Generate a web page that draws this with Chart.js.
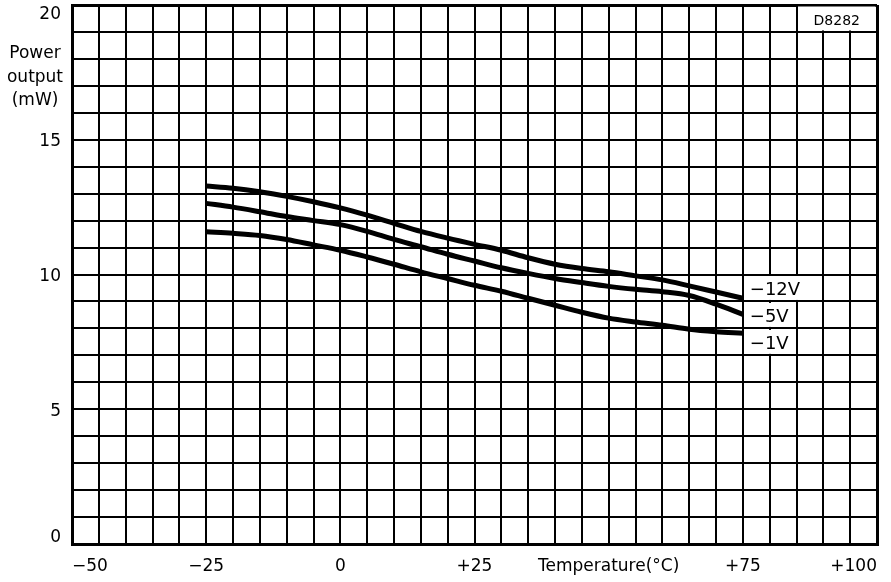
<!DOCTYPE html>
<html><head><meta charset="utf-8">
<script src="https://cdn.jsdelivr.net/npm/chart.js@4/dist/chart.umd.min.js"></script>
<style>html,body{margin:0;padding:0;background:#fff;}#wrap{width:891px;height:582px;}</style>
</head><body><div id="wrap"><canvas id="c" width="891" height="582"></canvas></div>
<script>
const temperatures = [-25,-20,-15,-10,-5,0,5,10,15,20,25,30,35,40,45,50,55,60,65,70,75];
const series12V = [13.28,13.2,13.07,12.9,12.7,12.47,12.2,11.9,11.6,11.35,11.12,10.9,10.62,10.38,10.22,10.1,9.95,9.8,9.58,9.35,9.12];
const series5V  = [12.64,12.5,12.33,12.15,12.0,11.85,11.6,11.3,11.03,10.75,10.5,10.25,10.04,9.85,9.7,9.56,9.45,9.36,9.22,8.9,8.52];
const series1V  = [11.59,11.53,11.45,11.3,11.1,10.9,10.65,10.38,10.1,9.85,9.6,9.38,9.12,8.86,8.6,8.38,8.24,8.12,7.97,7.88,7.82];
const seriesNames = ['\u221212V','\u22125V','\u22121V'];
const xTickValues = [-50,-25,0,25,50,75,100];
const xTickLabels = ['\u221250','\u221225','0','+25','Temperature(\u00b0C)','+75','+100'];
const yTickValues = [0,5,10,15,20];
const yTickLabels = ['0','5','10','15','20'];
const yAxisTitle = ['Power','output','(mW)'];
const chartCode = 'D8282';

const FONT = '"DejaVu Sans", sans-serif';
const allSeries = [series12V, series5V, series1V];

const overlay = {
  id: 'overlay',
  afterDraw(chart) {
    const ctx = chart.ctx, xs = chart.scales.x, ys = chart.scales.y;
    ctx.save();
    ctx.fillStyle = '#000';
    // y tick labels
    ctx.font = '17px ' + FONT;
    ctx.textAlign = 'right';
    ctx.textBaseline = 'middle';
    yTickValues.forEach((v, i) => {
      let y = ys.getPixelForValue(v);
      if (i === yTickValues.length - 1) y += 10;
      else if (i === 0) y -= 6;
      else y += 2;
      ctx.fillText(yTickLabels[i], 61, y);
    });
    // y axis title
    ctx.textAlign = 'center';
    yAxisTitle.forEach((t, i) => ctx.fillText(t, 35, 54 + i * 23.5));
    // chart code box
    const bx1 = xs.getPixelForValue(85), bx2 = xs.getPixelForValue(100);
    const by1 = ys.getPixelForValue(20), by2 = ys.getPixelForValue(19);
    ctx.fillStyle = '#fff';
    ctx.fillRect(bx1 + 1.5, by1 + 1.5, bx2 - bx1 - 3, by2 - by1 - 3);
    ctx.fillStyle = '#000';
    ctx.font = '14px ' + FONT;
    ctx.fillText(chartCode, (bx1 + bx2) / 2, (by1 + by2) / 2 + 3);
    // series labels
    ctx.font = '18px ' + FONT;
    ctx.textAlign = 'left';
    allSeries.forEach((s, i) => {
      const last = s[s.length - 1];
      const row = Math.floor(last);
      const yTop = ys.getPixelForValue(row + 1), yBot = ys.getPixelForValue(row);
      const lx1 = xs.getPixelForValue(75) + 3, lx2 = xs.getPixelForValue(85);
      const tw = ctx.measureText(seriesNames[i]).width;
      const right = Math.max(lx2 - 1.5, lx1 + 4 + tw + 3);
      ctx.fillStyle = '#fff';
      ctx.fillRect(lx1, yTop + 1.5, right - lx1, yBot - yTop - 3);
      ctx.fillStyle = '#000';
      ctx.fillText(seriesNames[i], lx1 + 4, (yTop + yBot) / 2 + 2);
    });
    ctx.restore();
  }
};

const mk = (s) => temperatures.map((t, i) => ({x: t, y: s[i]}));

new Chart(document.getElementById('c'), {
  type: 'line',
  data: {
    datasets: allSeries.map((s, i) => ({
      label: seriesNames[i],
      data: mk(s),
      borderColor: '#000',
      borderWidth: 5,
      pointRadius: 0,
      cubicInterpolationMode: 'monotone',
      fill: false
    }))
  },
  options: {
    responsive: false,
    animation: false,
    devicePixelRatio: 1,
    layout: {padding: {top: 5, right: 14, left: 0, bottom: 0}},
    plugins: {legend: {display: false}, tooltip: {enabled: false}},
    scales: {
      x: {
        type: 'linear', min: -50, max: 100,
        afterFit(scale) { scale.height = 38; },
        border: {display: true, color: '#000', width: 3},
        grid: {
          color: '#000',
          drawTicks: false,
          lineWidth: (c) => (c.tick && (c.tick.value === 100 || c.tick.value === -50)) ? 3 : 2
        },
        ticks: {
          stepSize: 5, autoSkip: false, maxRotation: 0, align: 'inner', padding: 12,
          color: '#000', font: {family: FONT, size: 17},
          callback: (v) => { const k = xTickValues.indexOf(v); return k >= 0 ? xTickLabels[k] : ''; }
        }
      },
      y: {
        min: 0, max: 20,
        afterFit(scale) { scale.width = 72; },
        border: {display: true, color: '#000', width: 3},
        grid: {
          color: '#000',
          drawTicks: false,
          lineWidth: (c) => (c.tick && (c.tick.value === 20 || c.tick.value === 0)) ? 3 : 2
        },
        ticks: {display: false, stepSize: 1}
      }
    }
  },
  plugins: [overlay]
});
</script></body></html>
